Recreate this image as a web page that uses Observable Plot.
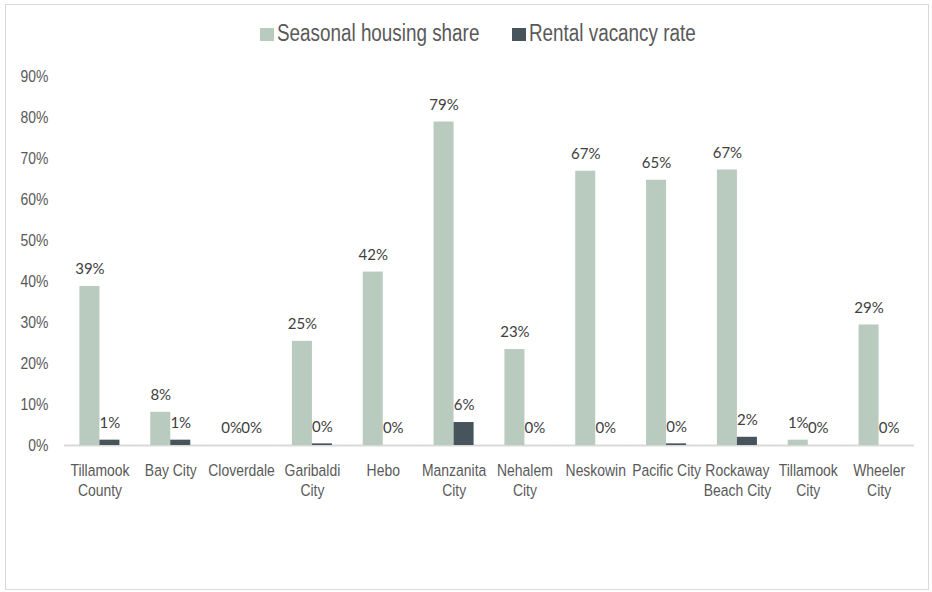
<!DOCTYPE html>
<html>
<head>
<meta charset="utf-8">
<script src="https://cdn.jsdelivr.net/npm/d3@7"></script>
<script src="https://cdn.jsdelivr.net/npm/@observablehq/plot@0.6"></script>
<style>
  html, body { margin: 0; padding: 0; background: #fff; }
  body { width: 932px; height: 592px; position: relative; overflow: hidden; }
  #frame { position: absolute; left: 5px; top: 4px; width: 924px; height: 586px; border: 1px solid #d9d9d9; box-sizing: border-box; }
  .lg-sw { position: absolute; top: 28px; width: 14px; height: 13px; }
  .lg-tx { position: absolute; top: 22px; line-height: 23px; font-size: 23px; white-space: nowrap;
           font-family: "Liberation Sans", Arial, sans-serif; color: #595959;
           transform: scaleX(0.82); transform-origin: 0 0; }
  #chart { position: absolute; left: 0; top: 62px; }
</style>
</head>
<body>
<div id="frame"></div>
<div id="legend"></div>
<div id="chart"></div>
<script>
const categories = ["Tillamook County", "Bay City", "Cloverdale", "Garibaldi City", "Hebo", "Manzanita City", "Nehalem City", "Neskowin", "Pacific City", "Rockaway Beach City", "Tillamook City", "Wheeler City"];
const categoryLabels = ["Tillamook\nCounty", "Bay City", "Cloverdale", "Garibaldi\nCity", "Hebo", "Manzanita\nCity", "Nehalem\nCity", "Neskowin", "Pacific City", "Rockaway\nBeach City", "Tillamook\nCity", "Wheeler\nCity"];
const seriesNames = ["Seasonal housing share", "Rental vacancy rate"];
const seasonalShare = [0.388, 0.081, 0.0, 0.254, 0.423, 0.789, 0.234, 0.669, 0.647, 0.672, 0.013, 0.294];
const rentalVacancy = [0.013, 0.013, 0.0, 0.004, 0.0, 0.056, 0.0, 0.0, 0.004, 0.02, 0.0, 0.0];
const colors = ["#b8cbbe", "#47545c"];
const yTicks = [0, 0.1, 0.2, 0.3, 0.4, 0.5, 0.6, 0.7, 0.8, 0.9];

const data = [];
categories.forEach((c, i) => {
  data.push({category: c, series: seriesNames[0], value: seasonalShare[i]});
  data.push({category: c, series: seriesNames[1], value: rentalVacancy[i]});
});

const labelMap = new Map(categories.map((c, i) => [c, categoryLabels[i]]));
const axisFont = '"Liberation Sans", Arial, sans-serif';

const chart = Plot.plot({
  width: 932,
  height: 520,
  marginLeft: 64,
  marginRight: 18,
  marginTop: 14,
  marginBottom: 137,
  style: {fontFamily: axisFont, fontSize: "17px", color: "#595959", background: "transparent"},
  fx: {domain: categories, padding: 0, round: false, label: null},
  x: {domain: seriesNames, paddingInner: 0, paddingOuter: 0.77, round: false, axis: null},
  y: {domain: [0, 0.9], label: null},
  color: {domain: seriesNames, range: colors},
  marks: [
    Plot.axisY(yTicks, {tickSize: 0, tickPadding: 16, tickFormat: d => Math.round(d * 100) + "%", fill: "#595959", fontSize: 17, label: null}),
    Plot.axisFx({anchor: "bottom", tickSize: 0, tickPadding: 16, tickFormat: d => labelMap.get(d), lineHeight: 1.18, fill: "#595959", fontSize: 17, label: null}),
    Plot.ruleY([0], {stroke: "#d9d9d9", strokeWidth: 2}),
    Plot.barY(data, {fx: "category", x: "series", y: "value", fill: "series"}),
    Plot.text(data, {fx: "category", x: "series", y: "value", text: d => Math.round(d.value * 100) + "%",
      dy: -17, fill: "#404040", fontSize: 15, fontFamily: "Lato, 'Open Sans', sans-serif"})
  ]
});
document.getElementById("chart").appendChild(chart);

// condense axis labels horizontally to mimic a narrow typeface
chart.querySelectorAll('[aria-label*="tick label"] text').forEach(t => {
  const b = t.getBBox();
  const anchor = getComputedStyle(t).textAnchor;
  const ax = anchor === "end" ? b.x + b.width : anchor === "middle" ? b.x + b.width / 2 : b.x;
  const existing = t.getAttribute("transform") || "";
  t.setAttribute("transform", `${existing} translate(${ax},0) scale(0.82,1) translate(${-ax},0)`);
});

const legend = document.getElementById("legend");
const swLeft = [260, 512];
const txLeft = [277, 529];
seriesNames.forEach((s, i) => {
  const sw = document.createElement("span");
  sw.className = "lg-sw";
  sw.style.left = swLeft[i] + "px";
  sw.style.background = colors[i];
  const t = document.createElement("span");
  t.className = "lg-tx";
  t.style.left = txLeft[i] + "px";
  t.textContent = s;
  legend.appendChild(sw);
  legend.appendChild(t);
});
</script>
</body>
</html>
